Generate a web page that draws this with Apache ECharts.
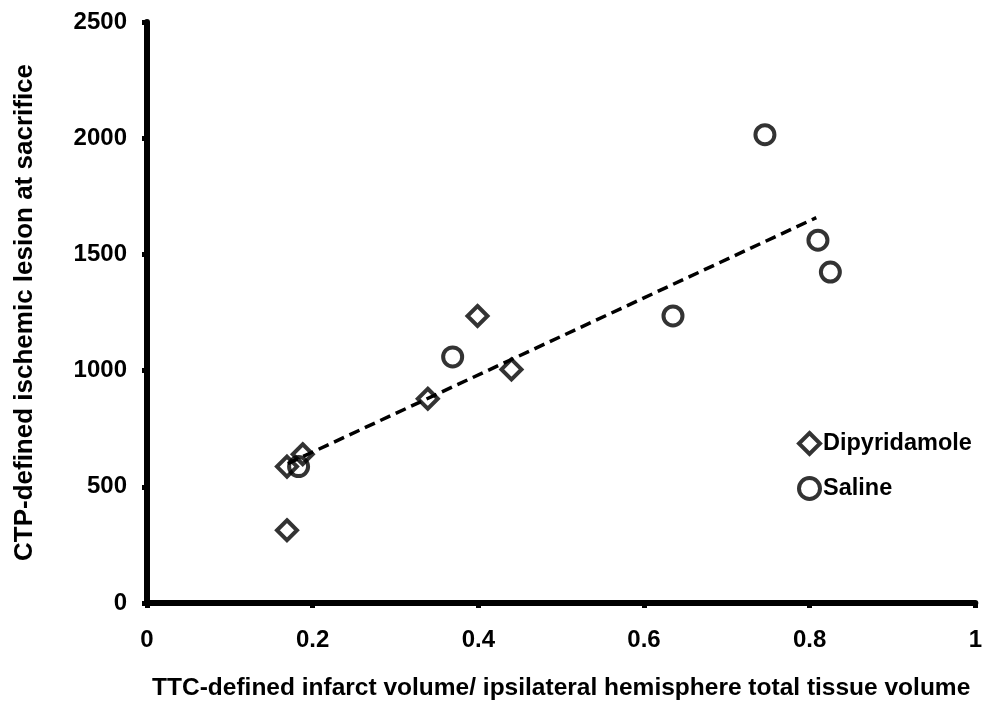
<!DOCTYPE html>
<html>
<head>
<meta charset="utf-8">
<script src="https://cdn.jsdelivr.net/npm/echarts@6/dist/echarts.min.js"></script>
<style>
  html, body { margin: 0; padding: 0; background: #fff; }
  #chart { width: 985px; height: 706px; }
</style>
</head>
<body>
<div id="chart"></div>
<script>
// Infarct volume fraction (x) vs. CTP lesion size at sacrifice (y)
const dipyridamolePoints = [
  [0.169, 313], [0.169, 587], [0.188, 640], [0.339, 879], [0.399, 1235], [0.440, 1005]
];
const salinePoints = [
  [0.183, 587], [0.369, 1059], [0.635, 1235], [0.746, 2015], [0.810, 1561], [0.825, 1424]
];
// Ends of the dashed regression line
const trendPoints = [[0.170, 600], [0.808, 1658]];

const xTicks = { min: 0, max: 1, interval: 0.2 };
const yTicks = { min: 0, max: 2500, interval: 500 };

const xTitle = 'TTC-defined infarct volume/ ipsilateral hemisphere total tissue volume';
const yTitle = 'CTP-defined ischemic lesion at sacrifice';

const font = '"Liberation Sans", Arial, sans-serif';
const axisCommon = {
  axisLine: { show: true, onZero: false, lineStyle: { color: '#000', width: 6 } },
  axisTick: { show: true, inside: false, length: 5, lineStyle: { color: '#000', width: 5 } },
  splitLine: { show: false },
  axisLabel: { color: '#000', fontFamily: font, fontWeight: 'bold', fontSize: 24 }
};

const markerStyle = { color: 'rgba(255,255,255,0)', borderColor: '#000', borderWidth: 4 };

const chart = echarts.init(document.getElementById('chart'), null, { renderer: 'canvas' });
chart.setOption({
  backgroundColor: '#fff',
  animation: false,
  grid: { left: 147, right: 8, top: 22, bottom: 97, containLabel: false },
  xAxis: Object.assign({}, axisCommon, {
    type: 'value',
    min: xTicks.min, max: xTicks.max, interval: xTicks.interval,
    axisLabel: Object.assign({}, axisCommon.axisLabel, {
      margin: 25,
      formatter: v => String(+v.toFixed(1))
    }),
    name: xTitle,
    nameLocation: 'middle',
    nameGap: 73,
    nameTextStyle: { color: '#000', fontFamily: font, fontWeight: 'bold', fontSize: 24.5 }
  }),
  yAxis: Object.assign({}, axisCommon, {
    type: 'value',
    min: yTicks.min, max: yTicks.max, interval: yTicks.interval,
    axisLabel: Object.assign({}, axisCommon.axisLabel, {
      margin: 20,
      formatter: v => String(v)
    }),
    name: yTitle,
    nameLocation: 'middle',
    nameGap: 109,
    nameRotate: 90,
    nameTextStyle: { color: '#000', fontFamily: font, fontWeight: 'bold', fontSize: 26 }
  }),
  legend: {
    orient: 'vertical',
    left: 792,
    top: 426,
    itemWidth: 21,
    itemHeight: 21,
    itemGap: 20,
    data: ['Dipyridamole', 'Saline'],
    itemStyle: { borderWidth: 4 },
    textStyle: { color: '#000', fontFamily: font, fontWeight: 'bold', fontSize: 23.5, padding: [0, 0, 0, -2] }
  },
  series: [
    {
      name: 'trend',
      type: 'line',
      data: trendPoints,
      symbol: 'none',
      silent: true,
      z: 1,
      lineStyle: { color: '#000', width: 3.5, type: [11, 6] }
    },
    {
      name: 'Dipyridamole',
      type: 'scatter',
      data: dipyridamolePoints,
      symbol: 'diamond',
      symbolSize: 20,
      z: 3,
      itemStyle: markerStyle
    },
    {
      name: 'Saline',
      type: 'scatter',
      data: salinePoints,
      symbol: 'circle',
      symbolSize: 19,
      z: 3,
      itemStyle: markerStyle
    }
  ]
});
</script>
</body>
</html>
